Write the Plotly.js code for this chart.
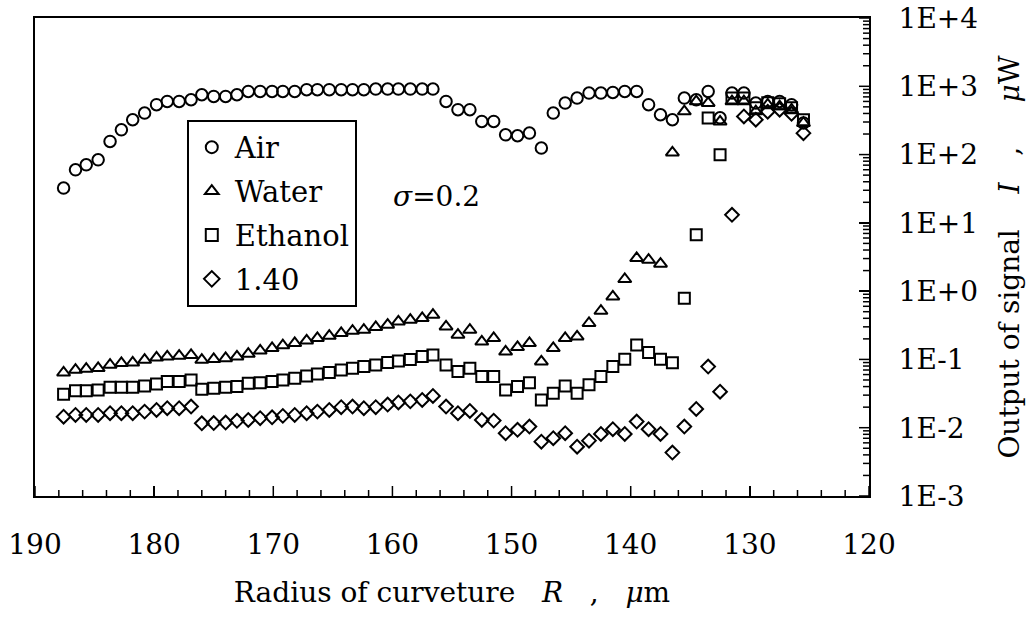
<!DOCTYPE html>
<html>
<head>
<meta charset="utf-8">
<script src="https://cdn.plot.ly/plotly-3.0.1.min.js"></script>
<style>html,body{margin:0;padding:0;background:#fff;}#chart{width:1029px;height:617px;}</style>
</head>
<body>
<div id="chart"></div>
<script>
// Radius of curvature R (um) at which all four media were measured
var radius = [
  187.6, 186.6, 185.7, 184.7, 183.7, 182.75, 181.8, 180.8, 179.8, 178.9, 177.9, 176.9,
  176.0, 175.0, 174.0, 173.05, 172.1, 171.1, 170.1, 169.2, 168.2, 167.2, 166.3, 165.3,
  164.3, 163.35, 162.4, 161.4, 160.4, 159.5, 158.5, 157.5, 156.6,
  155.5, 154.5, 153.5, 152.5, 151.5, 150.5, 149.5, 148.5, 147.5, 146.5, 145.5, 144.5,
  143.5, 142.5, 141.5, 140.5, 139.5, 138.5, 137.5, 136.5,
  135.5, 134.5, 133.5, 132.5, 131.5, 130.5, 129.5, 128.5, 127.5, 126.5, 125.5
];

// Output of signal I (uW)
var air = [
  32.3, 59.9, 70.9, 83.9, 155.6, 230.8, 323.6, 405.5, 537, 600, 600, 635,
  752, 710, 710, 752, 841, 841, 841, 841, 841, 891, 891, 891,
  891, 891, 891, 912, 912, 912, 912, 912, 912,
  600, 454, 454, 305.5, 305.5, 195, 188.6, 206.5, 124.5, 405.5, 568, 673,
  797, 797, 813, 841, 841, 537, 383, 323.6,
  673, 635, 841, 346, 797, 797, 568, 600, 600, 537, 290
];
var water = [
  0.0641, 0.0701, 0.0726, 0.0743, 0.0832, 0.0881, 0.0897, 0.0984, 0.106, 0.110, 0.113, 0.116,
  0.0984, 0.1007, 0.104, 0.110, 0.1205, 0.1346, 0.146, 0.160, 0.173, 0.189, 0.205, 0.221,
  0.242, 0.262, 0.271, 0.296, 0.321, 0.358, 0.379, 0.402, 0.449,
  0.303, 0.229, 0.271, 0.182, 0.205, 0.130, 0.151, 0.173, 0.093, 0.146, 0.205, 0.216,
  0.340, 0.514, 0.834, 1.50, 3.04, 2.87, 2.51, 107,
  428, 600, 568, 303, 600, 600, 428, 537, 507, 454, 290
];
var ethanol = [
  0.0309, 0.0349, 0.0349, 0.0357, 0.0392, 0.0392, 0.0392, 0.0409, 0.0438, 0.0473, 0.0473, 0.0501,
  0.0366, 0.0379, 0.0392, 0.0400, 0.0449, 0.0457, 0.0473, 0.0501, 0.0531, 0.0574, 0.0614, 0.0641,
  0.0701, 0.0743, 0.0785, 0.0832, 0.0904, 0.0951, 0.100, 0.110, 0.116,
  0.0832, 0.0664, 0.0743, 0.0560, 0.0560, 0.0357, 0.0400, 0.0457, 0.0255, 0.0320, 0.0409, 0.0320,
  0.0424, 0.0560, 0.0785, 0.1007, 0.163, 0.126, 0.1007, 0.0897,
  0.789, 6.68, 343, 99.3, 673, 673, 485, 574, 555, 485, 324
];
var n140 = [
  0.0145, 0.0154, 0.0154, 0.0154, 0.0163, 0.0163, 0.0163, 0.0172, 0.0182, 0.0193, 0.0193, 0.0204,
  0.0116, 0.0117, 0.0119, 0.0126, 0.0130, 0.0138, 0.0142, 0.0149, 0.0154, 0.0163, 0.0172, 0.0182,
  0.0200, 0.0204, 0.0193, 0.0200, 0.0218, 0.0234, 0.0243, 0.0255, 0.0292,
  0.0204, 0.0163, 0.0176, 0.0130, 0.0127, 0.0083, 0.0093, 0.0104, 0.00625, 0.00702, 0.0083, 0.00527,
  0.00646, 0.0081, 0.0095, 0.0081, 0.0123, 0.0095, 0.0081, 0.00432,
  0.0104, 0.0188, 0.0785, 0.0337, 13.1, 362, 324, 424, 454, 396, 206
];

var seriesNames = ['Air', 'Water', 'Ethanol', '1.40'];
var yTickVals = [1e-3, 1e-2, 1e-1, 1, 10, 100, 1000, 10000];
var yTickText = ['1E-3', '1E-2', '1E-1', '1E+0', '1E+1', '1E+2', '1E+3', '1E+4'];
var xTickVals = [190, 180, 170, 160, 150, 140, 130, 120];
var xMinorVals = [188, 186, 184, 182, 178, 176, 174, 172, 168, 166, 164, 162, 158, 156, 154, 152,
                  148, 146, 144, 142, 138, 136, 134, 132, 128, 126, 124, 122];
var yMinorVals = [];
yTickVals.slice(0, 7).forEach(function (d) {
  for (var m = 2; m <= 9; m++) yMinorVals.push(d * m);
});

var FONT = 'DejaVu Serif';
var MAJOR_LEN = 10, MINOR_LEN = 6, TICK_W = 1.5;

function mk(name, vals, symbol, size, group) {
  return {
    type: 'scatter', mode: 'markers', name: name, x: radius, y: vals,
    legendgroup: group,
    marker: {symbol: symbol, size: size, color: 'black', line: {color: 'black', width: 2}}
  };
}
var data = [
  mk(seriesNames[0], air, 'circle-open', 11.5, 'a'),
  mk(seriesNames[1], water, 'triangle-up-open', 11.5, 'b'),
  mk(seriesNames[2], ethanol, 'square-open', 11, 'c'),
  mk(seriesNames[3], n140, 'diamond-open', 10.5, 'd')
];

// inside tick marks, placed on the axes' own scales
var tickShapes = [];
function xTick(v, len) {
  tickShapes.push({type: 'line', layer: 'above', xref: 'x', yref: 'paper', ysizemode: 'pixel', yanchor: 0,
    x0: v, x1: v, y0: 0, y1: len, line: {color: 'black', width: TICK_W}});
}
function yTick(v, len) {
  tickShapes.push({type: 'line', layer: 'above', xref: 'paper', yref: 'y', xsizemode: 'pixel', xanchor: 1,
    x0: -len, x1: 0, y0: v, y1: v, line: {color: 'black', width: TICK_W}});
}
xTickVals.forEach(function (v) { xTick(v, MAJOR_LEN); });
xMinorVals.forEach(function (v) { xTick(v, MINOR_LEN); });
yTickVals.forEach(function (v) { yTick(v, MAJOR_LEN); });
yMinorVals.forEach(function (v) { yTick(v, MINOR_LEN); });

var layout = {
  width: 1029, height: 617,
  margin: {l: 35, r: 160, t: 18, b: 121, pad: 0},
  paper_bgcolor: 'white', plot_bgcolor: 'white',
  font: {family: FONT, size: 28, color: 'black'},
  showlegend: true,
  legend: {
    x: 0.182, y: 0.787, xanchor: 'left', yanchor: 'top',
    bgcolor: 'white', bordercolor: 'black', borderwidth: 2,
    font: {family: FONT, size: 29, color: 'black'},
    tracegroupgap: 3.2, itemsizing: 'constant', itemwidth: 36
  },
  xaxis: {
    range: [190, 120], tickmode: 'array', tickvals: xTickVals,
    ticks: 'inside', ticklen: MAJOR_LEN, tickwidth: TICK_W, tickcolor: 'black',
    showline: true, linewidth: 2, linecolor: 'black', mirror: true,
    showgrid: false, zeroline: false,
    ticklabelstandoff: 22,
    tickfont: {family: FONT, size: 28, color: 'black'},
    title: {text: 'Radius of curveture\u00a0\u00a0\u00a0<i>R</i>\u00a0\u00a0\u00a0,\u00a0\u00a0\u00a0<i>\u03bc</i>m', standoff: 23,
            font: {family: FONT, size: 28, color: 'black'}}
  },
  yaxis: {
    type: 'log', range: [-3.0002, 4.0002], side: 'right',
    tickmode: 'array', tickvals: yTickVals, ticktext: yTickText,
    ticks: 'inside', ticklen: MAJOR_LEN, tickwidth: TICK_W, tickcolor: 'black',
    showline: true, linewidth: 2, linecolor: 'black', mirror: true,
    showgrid: false, zeroline: false,
    ticklabelstandoff: 22,
    tickfont: {family: FONT, size: 28, color: 'black'},
    title: {text: 'Output of signal\u00a0\u00a0\u00a0\u00a0<i>I</i>\u00a0\u00a0\u00a0,\u00a0\u00a0\u00a0\u00a0\u00a0<i>\u03bc</i>W', standoff: 22,
            font: {family: FONT, size: 28, color: 'black'}}
  },
  shapes: tickShapes,
  annotations: [{
    xref: 'paper', yref: 'paper', x: 0.482, y: 0.626, xanchor: 'center', yanchor: 'middle',
    text: '<i>\u03c3</i>=0.2', showarrow: false, font: {family: FONT, size: 28, color: 'black'}
  }]
};

Plotly.newPlot('chart', data, layout, {staticPlot: true, displayModeBar: false});
</script>
</body>
</html>
